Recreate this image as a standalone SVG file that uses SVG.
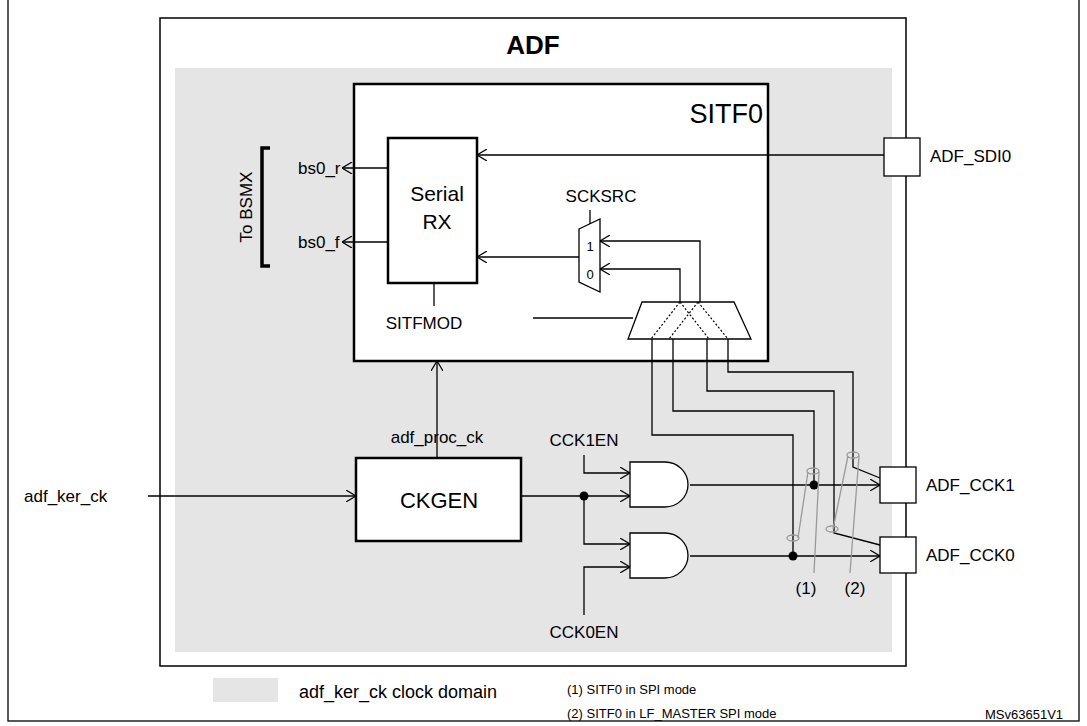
<svg xmlns="http://www.w3.org/2000/svg" width="1087" height="726" viewBox="0 0 1087 726">
<defs>
<marker id="a" viewBox="0 0 10 12" refX="10" refY="6" markerWidth="10" markerHeight="12" markerUnits="userSpaceOnUse" orient="auto"><path d="M0,0 L10,6 L0,12" fill="none" stroke="#000" stroke-width="1.2"/></marker>
</defs>
<style>
text{font-family:"Liberation Sans",Arial,sans-serif;fill:#000}
.l{font-size:17px}
.s{font-size:13px}
.w{fill:none;stroke:#000;stroke-width:1.3}
.b{fill:#fff;stroke:#000;stroke-width:2.5}
.g{fill:#fff;stroke:#000;stroke-width:1.3}
.e{fill:none;stroke:#999;stroke-width:1.3}
</style>
<rect x="8" y="-2" width="1071" height="723" fill="#fff" stroke="#000" stroke-width="1.3"/>
<g id="adf"><rect x="160" y="18" width="746" height="648" fill="#fff" stroke="#000" stroke-width="1.5"/>
<rect x="175" y="68" width="717" height="584" fill="#e5e5e5"/>
<text x="533" y="54" font-size="26" font-weight="bold" text-anchor="middle">ADF</text></g>
<g id="sitf0"><rect x="354" y="84" width="414" height="277" class="b"/><text x="763" y="123" font-size="27" text-anchor="end">SITF0</text></g>
<g id="serialrx"><rect x="388" y="138" width="89" height="145" class="b"/><text x="437" y="201" font-size="21" text-anchor="middle">Serial</text><text x="437" y="229" font-size="21" text-anchor="middle">RX</text></g>
<g id="scksrc"><path d="M579,229 L600,219 L600,292 L579,282 Z" class="g"/><text x="590" y="251" font-size="13" text-anchor="middle">1</text><text x="590" y="279" font-size="13" text-anchor="middle">0</text><text x="601" y="202" class="l" text-anchor="middle">SCKSRC</text></g>
<g id="sitfmod"><path d="M642,302 L734,302 L751,339 L628,339 Z" class="g"/>
<path d="M680,302 L651,339 M680,302 L709,339 M698,302 L669,339 M698,302 L728,339" fill="none" stroke="#000" stroke-width="1.2" stroke-dasharray="2,2"/>
<text x="424" y="329" class="l" text-anchor="middle">SITFMOD</text></g>
<g id="ckgen"><rect x="356" y="458" width="165" height="83" class="b"/><text x="439" y="508" font-size="22" text-anchor="middle">CKGEN</text></g>
<g id="and1"><path d="M630,462 L665,462 A23,22.5 0 0 1 665,507 L630,507 Z" class="g"/></g>
<g id="and0"><path d="M630,533 L665,533 A23,22.5 0 0 1 665,578 L630,578 Z" class="g"/></g>
<g id="pads"><rect x="884" y="138" width="36" height="38" class="g"/><rect x="880" y="467" width="36" height="36" class="g"/><rect x="880" y="537" width="36" height="36" class="g"/>
<text x="930" y="162" class="l">ADF_SDI0</text><text x="926" y="491" class="l">ADF_CCK1</text><text x="926" y="561" class="l">ADF_CCK0</text></g>
<g id="bsmx"><path d="M270,148 L262,148 L262,266 L270,266" fill="none" stroke="#000" stroke-width="3.5"/>
<text transform="translate(252,207) rotate(-90)" class="l" text-anchor="middle">To BSMX</text>
<text x="298" y="174" class="l">bs0_r</text><text x="298" y="248" class="l">bs0_f</text></g>
<g id="labels"><text x="437" y="443" class="l" text-anchor="middle">adf_proc_ck</text><text x="24" y="502" class="l">adf_ker_ck</text>
<text x="584" y="446" class="l" text-anchor="middle">CCK1EN</text><text x="584" y="638" class="l" text-anchor="middle">CCK0EN</text>
<text x="806" y="594" class="l" text-anchor="middle">(1)</text><text x="855" y="594" class="l" text-anchor="middle">(2)</text></g>
<g id="connectors" class="w">
<path d="M388,168 L342,168" marker-end="url(#a)"/><path d="M388,242 L342,242" marker-end="url(#a)"/>
<path d="M884,155 L477,155" marker-end="url(#a)"/>
<path d="M579,257 L477,257" marker-end="url(#a)"/>
<path d="M590,210 L590,224"/>
<path d="M700,302 L700,241 L600,241" marker-end="url(#a)"/>
<path d="M680,302 L680,269 L600,269" marker-end="url(#a)"/>
<path d="M434,283 L434,306"/><path d="M533,318 L633,318"/>
<path d="M437,458 L437,361" marker-end="url(#a)"/>
<path d="M148,496 L356,496" marker-end="url(#a)"/>
<path d="M521,496 L630,496" marker-end="url(#a)"/>
<path d="M584,455 L584,473 L630,473" marker-end="url(#a)"/>
<path d="M584,496 L584,544 L630,544" marker-end="url(#a)"/>
<path d="M584,615 L584,567 L630,567" marker-end="url(#a)"/>
<path d="M690,485 L880,485" marker-end="url(#a)"/>
<path d="M690,556 L880,556" marker-end="url(#a)"/>
<path d="M652,339 L652,435 L793,435 L793,556"/>
<path d="M673,339 L673,411 L814,411 L814,485"/>
<path d="M707,339 L707,391 L834,391 L834,533 L880,545"/>
<path d="M728,339 L728,372 L853,372 L853,467 L880,478"/>
</g>
<g id="dots"><circle cx="584" cy="496" r="4.5"/><circle cx="814" cy="485" r="4.5"/><circle cx="793" cy="556" r="4.5"/></g>
<g id="ellipses" class="e"><ellipse cx="813" cy="471" rx="6" ry="3"/><ellipse cx="793" cy="538" rx="6" ry="3"/><ellipse cx="853" cy="455" rx="6" ry="3"/><ellipse cx="832" cy="529" rx="6" ry="3"/>
<path d="M808,472 L798,538 M819,472 L814,573 M848,456 L833,529 M859,456 L850,573"/></g>
<g id="legend"><rect x="213" y="678" width="65" height="24" fill="#e5e5e5"/><text x="299" y="698" font-size="18">adf_ker_ck clock domain</text>
<text x="567" y="694" class="s">(1) SITF0 in SPI mode</text><text x="567" y="718" class="s">(2) SITF0 in LF_MASTER SPI mode</text><text x="985" y="719" class="s">MSv63651V1</text></g>
</svg>
